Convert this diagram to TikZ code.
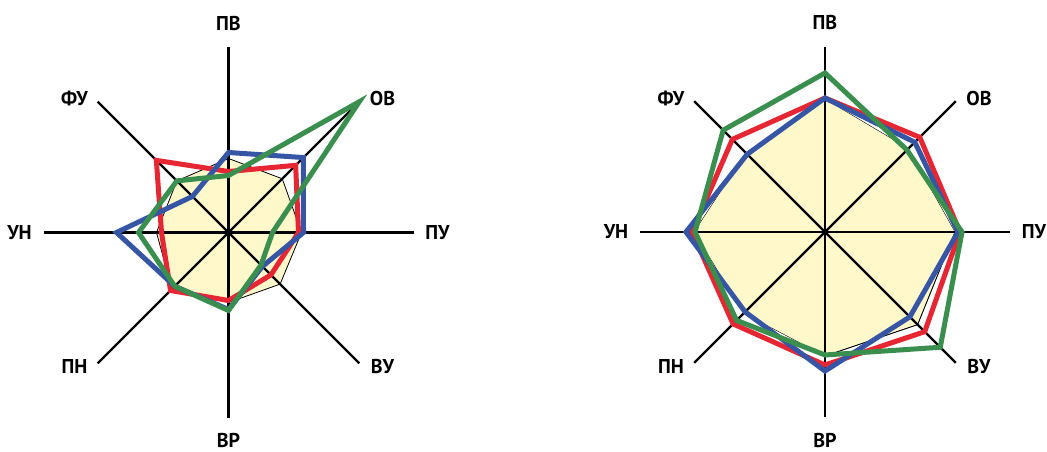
\documentclass[tikz,border=0pt]{standalone}
\usepackage{fontspec}
\setmainfont{PT Sans}
\definecolor{cred}{RGB}{230,38,50}
\definecolor{cblue}{RGB}{55,85,165}
\definecolor{cgreen}{RGB}{58,142,78}
\definecolor{cyel}{RGB}{255,248,202}
\tikzset{
  axisline/.style={line width=2.4pt,black},
  series/.style={line width=5pt,line join=miter},
  fillpoly/.style={fill=cyel,draw=black,line width=0.8pt},
  fillonly/.style={fill=cyel},
  thinline/.style={draw=black,line width=0.8pt},
  lbl/.style={font=\bfseries\fontsize{20}{22}\selectfont,inner sep=0pt}
}
\newcommand{\rdr}[9]{\draw[#1] (90:#2) -- (45:#3) -- (0:#4) -- (-45:#5) -- (-90:#6) -- (-135:#7) -- (180:#8) -- (135:#9) -- cycle;}
\newcommand{\axes}[1]{%
  \coordinate (#1c) at (0,0);
  \foreach \a/\n in {90/pv,45/ov,0/pu,-45/vu,-90/vr,-135/pn,180/un,135/fu}{
    \coordinate (#1\n) at (\a:185);
    \draw[axisline] (#1c) -- (#1\n);
  }
  \node[lbl] (#1tpv) at (0,209) {ПВ};
  \node[lbl] (#1tov) at (154,134) {ОВ};
  \node[lbl] (#1tpu) at (209,0) {ПУ};
  \node[lbl] (#1tvu) at (154,-134) {ВУ};
  \node[lbl] (#1tvr) at (0,-208) {ВР};
  \node[lbl] (#1tpn) at (-154,-134) {ПН};
  \node[lbl] (#1tun) at (-209,0) {УН};
  \node[lbl] (#1tfu) at (-154,134) {ФУ};
}
\begin{document}
\begin{tikzpicture}[x=1pt,y=1pt]
\useasboundingbox[fill=white] (0,0) rectangle (1047,451);
% left chart
\begin{scope}[shift={(228.5,218.5)}]
  \rdr{fillpoly}{74}{76}{73}{73}{70}{80}{72}{73}
  \axes{L}
  \rdr{series,cred}{61}{95}{70}{60}{68}{82}{67}{102}
  \rdr{series,cblue}{80}{106}{75}{48}{77}{76}{112}{51}
  \rdr{series,cgreen}{57}{185}{44}{46}{78}{76}{90}{73}
\end{scope}
% right chart
\begin{scope}[shift={(825,219)}]
  \rdr{fillonly}{133}{118}{130}{131}{124}{115}{131}{112}
  \draw[thinline] (0:130) -- (-45:131) -- (-90:124);
  \axes{R}
  \rdr{series,cred}{134}{134}{135}{141}{133}{130}{133}{131}
  \rdr{series,cblue}{134}{127}{133}{120}{139}{113}{139}{110}
  \rdr{series,cgreen}{159}{116}{137}{163}{123}{125}{130}{144}
\end{scope}
\end{tikzpicture}
\end{document}
